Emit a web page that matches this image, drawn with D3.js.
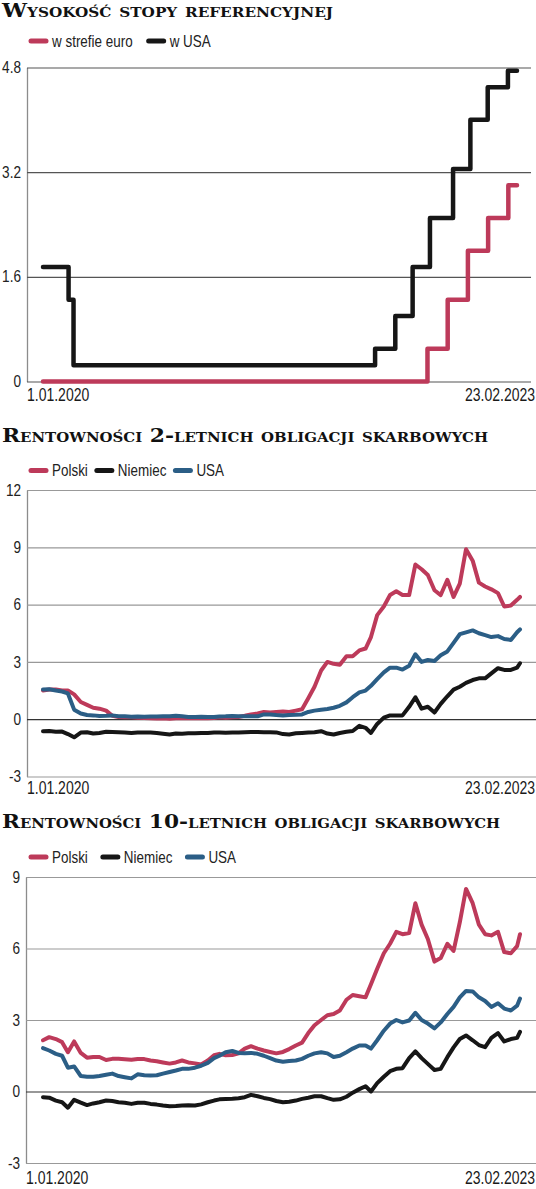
<!DOCTYPE html>
<html>
<head>
<meta charset="utf-8">
<script src="https://cdn.jsdelivr.net/npm/d3@7"></script>
<style>
body { margin: 0; background: #fff; }
svg { display: block; }
.title { font-family: "DejaVu Serif", serif; font-weight: bold; font-variant: small-caps; font-size: 19px; fill: #111; }
.lab { font-family: "Liberation Sans", Arial, sans-serif; font-size: 16px; fill: #222; }
.xlab { font-family: "Liberation Sans", Arial, sans-serif; font-size: 17.5px; fill: #1a1a1a; }
</style>
</head>
<body>
<svg id="chart" width="536" height="1189"></svg>
<script>
// end labels of every time axis
var xLabels = ["1.01.2020", "23.02.2023"];

// policy rates, value valid from the given day on
var fedDates = ["2020-01-01","2020-03-03","2020-03-15","2022-03-16","2022-05-04","2022-06-15","2022-07-27","2022-09-21","2022-11-02","2022-12-14","2023-02-01","2023-02-23"];
var fedRate  = [1.75, 1.25, 0.25, 0.5, 1.0, 1.75, 2.5, 3.25, 4.0, 4.5, 4.75, 4.75];
var ecbDates = ["2020-01-01","2022-07-21","2022-09-08","2022-10-27","2022-12-15","2023-02-02","2023-02-23"];
var ecbRate  = [0, 0.5, 1.25, 2.0, 2.5, 3.0, 3.0];

// bond yields, read twice a month
var bondDates = [
"2020-01-01","2020-01-16","2020-02-01","2020-02-16","2020-03-01","2020-03-16","2020-04-01","2020-04-16","2020-05-01","2020-05-16","2020-06-01","2020-06-16",
"2020-07-01","2020-07-16","2020-08-01","2020-08-16","2020-09-01","2020-09-16","2020-10-01","2020-10-16","2020-11-01","2020-11-16","2020-12-01","2020-12-16",
"2021-01-01","2021-01-16","2021-02-01","2021-02-16","2021-03-01","2021-03-16","2021-04-01","2021-04-16","2021-05-01","2021-05-16","2021-06-01","2021-06-16",
"2021-07-01","2021-07-16","2021-08-01","2021-08-16","2021-09-01","2021-09-16","2021-10-01","2021-10-16","2021-11-01","2021-11-16","2021-12-01","2021-12-16",
"2022-01-01","2022-01-16","2022-02-01","2022-02-16","2022-03-01","2022-03-16","2022-04-01","2022-04-16","2022-05-01","2022-05-16","2022-06-01","2022-06-16",
"2022-07-01","2022-07-16","2022-08-01","2022-08-16","2022-09-01","2022-09-16","2022-10-01","2022-10-16","2022-11-01","2022-11-16","2022-12-01","2022-12-16",
"2023-01-01","2023-01-16","2023-02-01","2023-02-16","2023-02-23"];

// 2-year
var pl2 = [1.5,1.55,1.55,1.5,1.5,1.3,0.9,0.75,0.6,0.55,0.45,0.18, 0.12,0.1,0.1,0.08,0.06,0.05,0.04,0.05,0.02,0.05,0.05,0.05,
           0.06,0.05,0.05,0.06,0.1,0.08,0.1,0.12,0.18,0.25,0.3,0.38, 0.35,0.38,0.4,0.38,0.45,0.52,1.1,1.7,2.55,3.0,2.9,2.85,
           3.3,3.3,3.6,3.7,4.3,5.45,5.9,6.5,6.7,6.5,6.5,8.1, 7.85,7.55,6.75,6.5,7.3,6.4,7.1,8.9,8.3,7.15,6.95,6.8,
           6.6,5.9,5.95,6.25,6.4];
var de2 = [-0.63,-0.62,-0.66,-0.65,-0.78,-0.95,-0.7,-0.68,-0.75,-0.72,-0.66,-0.67, -0.68,-0.7,-0.72,-0.7,-0.69,-0.7,-0.72,-0.76,-0.8,-0.75,-0.76,-0.74,
           -0.73,-0.72,-0.72,-0.7,-0.69,-0.71,-0.7,-0.7,-0.68,-0.67,-0.67,-0.68, -0.68,-0.69,-0.78,-0.8,-0.74,-0.72,-0.7,-0.68,-0.63,-0.75,-0.8,-0.72,
           -0.66,-0.62,-0.35,-0.45,-0.72,-0.25,0.08,0.2,0.2,0.2,0.65,1.15, 0.55,0.65,0.35,0.8,1.2,1.55,1.7,1.9,2.05,2.14,2.14,2.4,
           2.67,2.58,2.58,2.7,2.93];
var us2 = [1.56,1.57,1.5,1.45,1.35,0.5,0.3,0.22,0.2,0.17,0.18,0.2, 0.16,0.15,0.13,0.14,0.13,0.14,0.14,0.15,0.16,0.18,0.15,0.12,
           0.12,0.13,0.11,0.11,0.14,0.15,0.17,0.16,0.16,0.15,0.15,0.25, 0.25,0.22,0.2,0.22,0.23,0.25,0.38,0.45,0.5,0.53,0.6,0.7,
           0.88,1.15,1.4,1.5,1.75,2.1,2.45,2.7,2.7,2.6,2.8,3.4, 3.0,3.1,3.05,3.35,3.55,4.0,4.45,4.55,4.65,4.5,4.4,4.3,
           4.35,4.2,4.15,4.55,4.7];

// 10-year
var pl10 = [2.15,2.28,2.2,2.07,1.65,2.1,1.62,1.42,1.45,1.45,1.32,1.37, 1.37,1.35,1.33,1.36,1.36,1.3,1.27,1.22,1.17,1.22,1.3,1.22,
            1.18,1.13,1.3,1.52,1.58,1.52,1.53,1.6,1.8,1.9,1.8,1.72, 1.66,1.6,1.66,1.78,1.93,2.05,2.45,2.78,3.0,3.2,3.25,3.4,
            3.85,4.05,4.0,3.95,4.5,5.15,5.8,6.2,6.7,6.6,6.65,7.9, 7.0,6.4,5.45,5.6,6.2,5.9,7.1,8.5,7.9,7.0,6.6,6.55,
            6.7,5.85,5.8,6.1,6.6];
var de10 = [-0.24,-0.26,-0.38,-0.45,-0.68,-0.35,-0.47,-0.57,-0.5,-0.45,-0.38,-0.4, -0.45,-0.47,-0.52,-0.47,-0.47,-0.52,-0.55,-0.59,-0.62,-0.61,-0.59,-0.58,
            -0.59,-0.54,-0.45,-0.38,-0.33,-0.31,-0.3,-0.28,-0.24,-0.14,-0.2,-0.27, -0.32,-0.4,-0.45,-0.43,-0.38,-0.31,-0.26,-0.2,-0.2,-0.28,-0.35,-0.33,
            -0.22,-0.05,0.1,0.22,0.0,0.35,0.62,0.85,0.95,0.98,1.4,1.68, 1.4,1.16,0.9,0.95,1.44,1.85,2.2,2.35,2.15,1.95,1.86,2.25,
            2.45,2.1,2.2,2.25,2.5];
var us10 = [1.82,1.72,1.58,1.5,1.0,1.05,0.65,0.62,0.62,0.65,0.7,0.75, 0.65,0.6,0.55,0.72,0.68,0.67,0.68,0.75,0.82,0.88,0.95,0.95,
            1.0,1.08,1.2,1.4,1.5,1.65,1.7,1.62,1.6,1.62,1.58,1.5, 1.4,1.3,1.25,1.28,1.3,1.37,1.5,1.6,1.65,1.6,1.45,1.5,
            1.65,1.8,1.93,1.93,1.8,2.15,2.55,2.85,3.0,2.9,2.98,3.3, 3.0,2.85,2.65,2.9,3.25,3.55,3.95,4.22,4.2,3.95,3.8,3.55,
            3.7,3.48,3.4,3.6,3.9];

var ticks1 = [0, 1.6, 3.2, 4.8];
var ticks2 = [-3, 0, 3, 6, 9, 12];
var ticks3 = [-3, 0, 3, 6, 9];

var RED = "#bd3a5a", BLACK = "#161616", BLUE = "#2b5e86";

var parse = d3.timeParse("%Y-%m-%d");
var parseLabel = d3.timeParse("%d.%m.%Y");
var svg = d3.select("#chart");

function zip(dates, vals) {
  return dates.map(function(d, i) { return { date: parse(d), v: vals[i] }; });
}

// the original uses a condensed face: squeeze the sans text horizontally
// (x/y are moved into a transform so the scale keeps the anchor point)
function narrow(sel, k) {
  sel.each(function() {
    var t = d3.select(this);
    var tx = +(t.attr("x") || 0), ty = +(t.attr("y") || 0);
    t.attr("x", null).attr("y", null)
      .attr("transform", "translate(" + tx + "," + ty + ") scale(" + k + ",1)");
  });
  return sel;
}

function panel(p) {
  var g = svg.append("g");

  g.append("text").attr("class", "title")
    .attr("x", 2).attr("y", p.titleY)
    .attr("textLength", p.titleW).attr("lengthAdjust", "spacingAndGlyphs")
    .text(p.title);

  // legend
  var lx = 31;
  p.series.forEach(function(s) {
    g.append("line")
      .attr("x1", lx).attr("x2", lx + 15)
      .attr("y1", p.legendY).attr("y2", p.legendY)
      .attr("stroke", s.color).attr("stroke-width", 5).attr("stroke-linecap", "round");
    var t = g.append("text").attr("class", "lab")
      .attr("x", lx + 21).attr("y", p.legendY).attr("dy", "0.35em")
      .text(s.name);
    var w = t.node().getComputedTextLength() * 0.84;
    narrow(t, 0.84);
    lx += 21 + w + p.legendGap;
  });

  var x = d3.scaleTime()
    .domain(xLabels.map(parseLabel))
    .range([43, p.xEnd]);
  var y = d3.scaleLinear()
    .domain(d3.extent(p.ticks))
    .range([p.bottom, p.top]);

  var ax = g.append("g")
    .attr("transform", "translate(" + p.left + ",0)")
    .call(d3.axisLeft(y)
      .tickValues(p.ticks)
      .tickSize(-(p.gridRight - p.left))
      .tickSizeOuter(0)
      .tickPadding(6)
      .tickFormat(function(d) { return String(d); }));
  ax.select(".domain").attr("stroke", "#8c8c8c").attr("stroke-width", 1.3);
  ax.selectAll(".tick line")
    .attr("stroke", function(d) { return d === 0 ? p.zeroColor : p.gridColor; })
    .attr("stroke-width", 1.2);
  narrow(ax.selectAll(".tick text").attr("class", "lab"), 0.85);

  narrow(g.append("text").attr("class", "xlab")
    .attr("x", p.left).attr("y", p.xLabelY).text(xLabels[0]), 0.8);
  narrow(g.append("text").attr("class", "xlab")
    .attr("x", 535).attr("y", p.xLabelY).attr("text-anchor", "end").text(xLabels[1]), 0.8);

  var line = d3.line()
    .x(function(d) { return x(d.date); })
    .y(function(d) { return y(d.v); })
    .curve(p.curve);

  p.series.forEach(function(s) {
    g.append("path")
      .datum(s.data)
      .attr("fill", "none")
      .attr("stroke", s.color)
      .attr("stroke-width", p.lineWidth)
      .attr("stroke-linejoin", "round")
      .attr("stroke-linecap", "round")
      .attr("d", line);
  });
}

panel({
  title: "Wysokość stopy referencyjnej", titleY: 17, titleW: 331,
  legendY: 41, legendGap: 16,
  series: [
    { name: "w strefie euro", color: RED, data: zip(ecbDates, ecbRate) },
    { name: "w USA", color: BLACK, data: zip(fedDates, fedRate) }
  ],
  ticks: ticks1, top: 67.5, bottom: 381.5, left: 27, gridRight: 531, xEnd: 517,
  gridColor: "#555", zeroColor: "#555", xLabelY: 401,
  curve: d3.curveStepAfter, lineWidth: 4.5
});

panel({
  title: "Rentowności 2-letnich obligacji skarbowych", titleY: 442, titleW: 486,
  legendY: 470.5, legendGap: 9,
  series: [
    { name: "Polski", color: RED, data: zip(bondDates, pl2) },
    { name: "Niemiec", color: BLACK, data: zip(bondDates, de2) },
    { name: "USA", color: BLUE, data: zip(bondDates, us2) }
  ],
  ticks: ticks2, top: 490, bottom: 776.5, left: 27, gridRight: 536, xEnd: 520,
  gridColor: "#999", zeroColor: "#333", xLabelY: 794,
  curve: d3.curveLinear, lineWidth: 4
});

panel({
  title: "Rentowności 10-letnich obligacji skarbowych", titleY: 828, titleW: 498,
  legendY: 857, legendGap: 15,
  series: [
    { name: "Polski", color: RED, data: zip(bondDates, pl10) },
    { name: "Niemiec", color: BLACK, data: zip(bondDates, de10) },
    { name: "USA", color: BLUE, data: zip(bondDates, us10) }
  ],
  ticks: ticks3, top: 877, bottom: 1163, left: 26, gridRight: 536, xEnd: 520,
  gridColor: "#999", zeroColor: "#333", xLabelY: 1184,
  curve: d3.curveLinear, lineWidth: 4
});
</script>
</body>
</html>
